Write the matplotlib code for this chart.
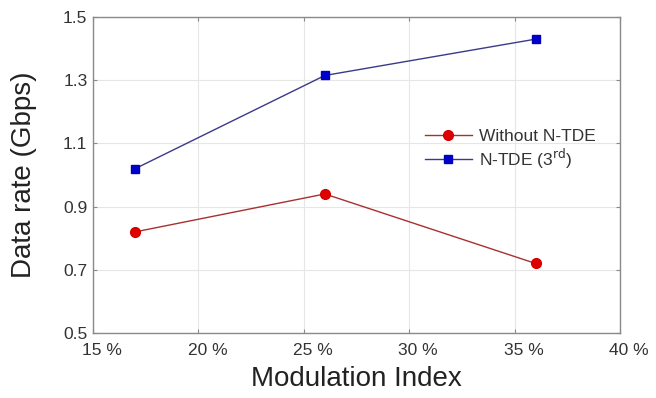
import matplotlib
matplotlib.use("Agg")
import matplotlib.pyplot as plt
import matplotlib.transforms as mtransforms

plt.rcParams['font.family'] = ['Liberation Sans', 'DejaVu Sans']

mod_index = [17, 26, 36]
without_ntde = [0.82, 0.94, 0.72]
ntde_3rd = [1.02, 1.315, 1.43]
xticks = [15, 20, 25, 30, 35, 40]
xtick_labels = ['15 %', '20 %', '25 %', '30 %', '35 %', '40 %']
yticks = [0.5, 0.7, 0.9, 1.1, 1.3, 1.5]

fig = plt.figure(figsize=(6.56, 3.98), dpi=100)
ax = fig.add_axes([93/656, 1-333/398, (620-93)/656, (333-17)/398])

ax.plot(mod_index, without_ntde, color='#a83030', lw=1.0, marker='o',
        markersize=7, markerfacecolor='#e00000', markeredgecolor='#d00000',
        label='Without N-TDE')
ax.plot(mod_index, ntde_3rd, color='#3a3a8a', lw=1.0, marker='s',
        markersize=6.3, markerfacecolor='#0000cc', markeredgecolor='#0000bb',
        label=r'N-TDE (3$^{\mathrm{rd}}$)')

ax.set_xlim(15, 40)
ax.set_ylim(0.5, 1.5)
ax.set_xticks(xticks)
ax.set_xticklabels(xtick_labels)
ax.set_yticks(yticks)
ax.set_yticklabels(['%.1f' % v for v in yticks])
ax.grid(True, color='#e6e6e6', lw=0.8)
ax.set_axisbelow(True)
for s in ax.spines.values():
    s.set_color('#8a8a8a')
    s.set_linewidth(1.0)
ax.tick_params(direction='in', length=3, color='#8a8a8a', labelsize=12.5,
               labelcolor='#333333', top=True, right=True)
ax.tick_params(axis='x', pad=7)
ax.tick_params(axis='y', pad=4)

offset = mtransforms.ScaledTranslation(9/100, 0, fig.dpi_scale_trans)
for lab in ax.get_xticklabels():
    lab.set_transform(lab.get_transform() + offset)

ax.set_xlabel('Modulation Index', fontsize=20, color='#222222', labelpad=6)
ax.set_ylabel('Data rate (Gbps)', fontsize=20, color='#222222', labelpad=19)

leg = ax.legend(loc='center left', bbox_to_anchor=(0.6, 0.58), frameon=False,
                fontsize=12.5, handlelength=2.7, handletextpad=0.4,
                labelspacing=0.15, labelcolor='#333333')

fig.savefig('out.png', dpi=100)
